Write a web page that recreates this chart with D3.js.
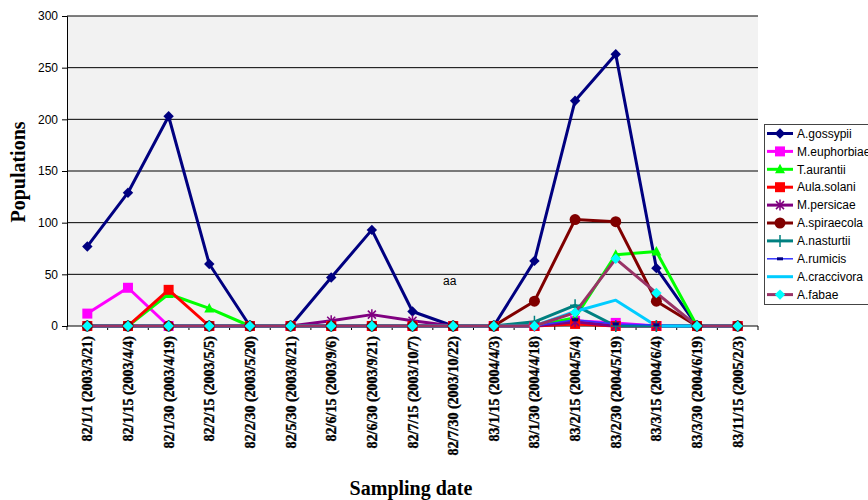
<!DOCTYPE html>
<html lang="en">
<head>
<meta charset="UTF-8">
<title>Aphid populations by sampling date</title>
<style>
    body { margin: 0; background: #fff; }
    svg { display: block; }
    .tick-y { font-family: "Liberation Sans", Arial, sans-serif; font-size: 12px; fill: #000; }
    .tick-x { font-family: "Liberation Serif", "Times New Roman", serif; font-size: 14px; font-weight: bold; fill: #000; stroke: #000; stroke-width: 0.35px; }
    .axis-title { font-family: "Liberation Serif", "Times New Roman", serif; font-size: 20px; font-weight: bold; fill: #000; }
    .legend text { font-family: "Liberation Sans", Arial, sans-serif; font-size: 12px; fill: #000; }
</style>
</head>
<body>
<div id="chart"></div>
<script src="https://d3js.org/d3.v7.min.js"></script>
<script>
    // sampling dates (Persian calendar + Gregorian)
    const categories = [
        "82/1/1 (2003/3/21)", "82/1/15 (2003/4/4)", "82/1/30 (2003/4/19)", "82/2/15 (2003/5/5)",
        "82/2/30 (2003/5/20)", "82/5/30 (2003/8/21)", "82/6/15 (2003/9/6)", "82/6/30 (2003/9/21)",
        "82/7/15 (2003/10/7)", "82/7/30 (2003/10/22)", "83/1/15 (2004/4/3)", "83/1/30 (2004/4/18)",
        "83/2/15 (2004/5/4)", "83/2/30 (2004/5/19)", "83/3/15 (2004/6/4)", "83/3/30 (2004/6/19)",
        "83/11/15 (2005/2/3)"
    ];

    // populations per species
    const gossypii   = [77, 129, 203, 60, 0, 0, 47, 93, 14, 0, 0, 63, 218, 263, 56, 0, 0];
    const euphorbiae = [12, 37, 0, 0, 0, 0, 0, 0, 0, 0, 0, 0, 5, 3, 0, 0, 0];
    const aurantii   = [0, 0, 31, 17, 0, 0, 0, 0, 0, 0, 0, 0, 8, 69, 72, 0, 0];
    const solani     = [0, 0, 35, 0, 0, 0, 0, 0, 0, 0, 0, 0, 2, 0, 0, 0, 0];
    const persicae   = [0, 0, 0, 0, 0, 0, 5, 11, 5, 0, 0, 0, 4, 0, 0, 0, 0];
    const spiraecola = [0, 0, 0, 0, 0, 0, 0, 0, 0, 0, 0, 24, 103, 101, 24, 0, 0];
    const nasturtii  = [0, 0, 0, 0, 0, 0, 0, 0, 0, 0, 0, 4, 20, 0, 0, 0, 0];
    const rumicis    = [0, 0, 0, 0, 0, 0, 0, 0, 0, 0, 0, 0, 6, 2, 1, 0, 0];
    const craccivora = [0, 0, 0, 0, 0, 0, 0, 0, 0, 0, 0, 0, 14, 25, 0, 0, 0];
    const fabae      = [0, 0, 0, 0, 0, 0, 0, 0, 0, 0, 0, 0, 13, 65, 32, 0, 0];

    const yTicks = [0, 50, 100, 150, 200, 250, 300];

    // marker shapes (Excel style)
    const diamond = { draw(ctx, size) { const r = Math.sqrt(size) / 2 * 1.1;
        ctx.moveTo(0, -r); ctx.lineTo(r, 0); ctx.lineTo(0, r); ctx.lineTo(-r, 0); ctx.closePath(); } };
    const triangle = { draw(ctx, size) { const r = Math.sqrt(size) / 2;
        ctx.moveTo(0, -r * 1.1); ctx.lineTo(r, r * 0.8); ctx.lineTo(-r, r * 0.8); ctx.closePath(); } };

    const series = [
        { name: "A.gossypii",   values: gossypii,   color: "#000080", width: 3, marker: "diamond", mfill: "#000080", msize: 90 },
        { name: "M.euphorbiae", values: euphorbiae, color: "#ff00ff", width: 3, marker: "square",  mfill: "#ff00ff", msize: 100 },
        { name: "T.aurantii",   values: aurantii,   color: "#00ff00", width: 3, marker: "triangle", mfill: "#00ff00", msize: 100 },
        { name: "Aula.solani",  values: solani,     color: "#ff0000", width: 3, marker: "square",  mfill: "#ff0000", msize: 100 },
        { name: "M.persicae",   values: persicae,   color: "#800080", width: 3, marker: "star",    mfill: "#800080", msize: 0 },
        { name: "A.spiraecola", values: spiraecola, color: "#800000", width: 3, marker: "circle",  mfill: "#800000", msize: 100 },
        { name: "A.nasturtii",  values: nasturtii,  color: "#008080", width: 3, marker: "plus",    mfill: "#008080", msize: 0 },
        { name: "A.rumicis",    values: rumicis,    color: "#3333ff", width: 1.5, marker: "dash",  mfill: "#000080", msize: 0 },
        { name: "A.craccivora", values: craccivora, color: "#00ccff", width: 3, marker: null,      mfill: null, msize: 0 },
        { name: "A.fabae",      values: fabae,      color: "#993366", width: 3, marker: "diamond", mfill: "#00ffff", msize: 90 }
    ];

    const width = 868, height = 500;
    const plot = { left: 67, right: 758, top: 16, bottom: 326 };

    const svg = d3.select("#chart").append("svg")
        .attr("width", width)
        .attr("height", height);

    const x = d3.scaleBand().domain(categories).range([plot.left, plot.right]).padding(0);
    const y = d3.scaleLinear().domain([0, 300]).range([plot.bottom, plot.top]);
    const cx = c => x(c) + x.bandwidth() / 2;

    // plot background
    svg.append("rect")
        .attr("x", plot.left).attr("y", plot.top)
        .attr("width", plot.right - plot.left).attr("height", plot.bottom - plot.top)
        .attr("fill", "#f2f2f2");

    // gridlines
    svg.append("g").selectAll("line")
        .data(yTicks.filter(d => d > 0))
        .join("line")
        .attr("x1", plot.left).attr("x2", plot.right)
        .attr("y1", d => y(d)).attr("y2", d => y(d))
        .attr("stroke", "#000").attr("stroke-width", 1);

    // y axis
    const yAxis = svg.append("g")
        .attr("transform", `translate(${plot.left},0)`)
        .call(d3.axisLeft(y).tickValues(yTicks).tickSize(5).tickPadding(4));
    yAxis.attr("font-family", null).attr("font-size", null);
    yAxis.select(".domain").attr("stroke", "#000");
    yAxis.selectAll("text").attr("class", "tick-y");

    // x axis line + ticks at category boundaries
    svg.append("line")
        .attr("x1", plot.left).attr("x2", plot.right)
        .attr("y1", plot.bottom).attr("y2", plot.bottom)
        .attr("stroke", "#000");
    svg.append("g").selectAll("line")
        .data(categories.concat([null]))
        .join("line")
        .attr("x1", d => d ? x(d) : plot.right)
        .attr("x2", d => d ? x(d) : plot.right)
        .attr("y1", plot.bottom).attr("y2", plot.bottom + 4)
        .attr("stroke", "#000");

    // x labels, rotated
    svg.append("g").selectAll("text")
        .data(categories)
        .join("text")
        .attr("class", "tick-x")
        .attr("transform", d => `translate(${cx(d) + 5},${plot.bottom + 10}) rotate(-90)`)
        .attr("text-anchor", "end")
        .text(d => d);

    // series lines
    const line = d3.line()
        .x((d, i) => cx(categories[i]))
        .y(d => y(d));

    svg.append("g").selectAll("path")
        .data(series)
        .join("path")
        .attr("d", s => line(s.values))
        .attr("fill", "none")
        .attr("stroke", s => s.color)
        .attr("stroke-width", s => s.width)
        .attr("stroke-linejoin", "round");

    function drawMarker(g, s) {
        if (!s.marker) return;
        if (s.marker === "diamond") {
            g.append("path").attr("d", d3.symbol(diamond, s.msize)()).attr("fill", s.mfill);
        } else if (s.marker === "square") {
            g.append("path").attr("d", d3.symbol(d3.symbolSquare, s.msize)()).attr("fill", s.mfill);
        } else if (s.marker === "triangle") {
            g.append("path").attr("d", d3.symbol(triangle, s.msize)()).attr("fill", s.mfill);
        } else if (s.marker === "circle") {
            g.append("circle").attr("r", 5.5).attr("fill", s.mfill);
        } else if (s.marker === "star") {
            g.append("path").attr("d", "M-4,-4L4,4M-4,4L4,-4M0,-5.5L0,5.5")
                .attr("stroke", s.mfill).attr("stroke-width", 1.5).attr("fill", "none");
        } else if (s.marker === "plus") {
            g.append("path").attr("d", "M-5,0L5,0M0,-6L0,6")
                .attr("stroke", s.mfill).attr("stroke-width", 1.5).attr("fill", "none");
        } else if (s.marker === "dash") {
            g.append("rect").attr("x", -3).attr("y", -1.5).attr("width", 6).attr("height", 3).attr("fill", s.mfill);
        }
    }

    // markers, series in order so the last one sits on top
    series.forEach(s => {
        const g = svg.append("g");
        s.values.forEach((v, i) => {
            const m = g.append("g").attr("transform", `translate(${cx(categories[i])},${y(v)})`);
            drawMarker(m, s);
        });
    });

    // stray label in the plot
    svg.append("text")
        .attr("x", 443).attr("y", 285)
        .attr("class", "tick-y")
        .text("aa");

    // axis titles
    svg.append("text")
        .attr("class", "axis-title")
        .attr("transform", "translate(25,172) rotate(-90)")
        .attr("text-anchor", "middle")
        .text("Populations");
    svg.append("text")
        .attr("class", "axis-title")
        .attr("x", 411).attr("y", 495)
        .attr("text-anchor", "middle")
        .text("Sampling date");

    // legend (clipped at the right edge, as in the original)
    const legend = svg.append("g").attr("class", "legend");
    legend.append("rect")
        .attr("x", 764.5).attr("y", 124.5)
        .attr("width", 110).attr("height", 180)
        .attr("fill", "#fff").attr("stroke", "#444");
    series.forEach((s, i) => {
        const ly = 133.5 + i * 17.9;
        const g = legend.append("g");
        g.append("line")
            .attr("x1", 767).attr("x2", 793)
            .attr("y1", ly).attr("y2", ly)
            .attr("stroke", s.color).attr("stroke-width", s.width);
        drawMarker(g.append("g").attr("transform", `translate(780,${ly})`), s);
        g.append("text")
            .attr("x", 797).attr("y", ly)
            .attr("dy", "0.35em")
            .text(s.name);
    });
</script>
</body>
</html>
